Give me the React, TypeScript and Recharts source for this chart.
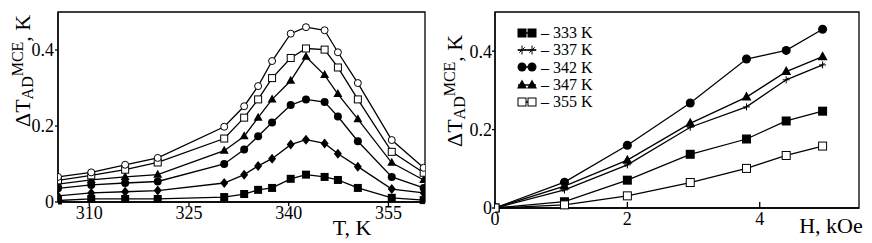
import React from 'react';
import { LineChart, Line, XAxis, YAxis, ReferenceArea, Legend } from 'recharts';

const SERIF = 'Liberation Serif, Times New Roman, serif';

// left panel: temperature dependence for six fields
const temps = [305.3, 310.3, 315.4, 320.3, 330.3, 333.3, 335.4, 337.5, 340.3, 342.6, 345.4, 347.4, 350.4, 355.5, 360.3];
const dT_H1 = [0.004, 0.008, 0.008, 0.008, 0.013, 0.021, 0.032, 0.037, 0.061, 0.072, 0.066, 0.058, 0.037, 0.011, 0.005];
const dT_H2 = [0.016, 0.024, 0.027, 0.03, 0.05, 0.072, 0.095, 0.114, 0.151, 0.164, 0.154, 0.127, 0.093, 0.034, 0.024];
const dT_H3 = [0.036, 0.045, 0.05, 0.054, 0.1, 0.138, 0.173, 0.209, 0.255, 0.27, 0.263, 0.225, 0.16, 0.066, 0.037];
const dT_H4 = [0.047, 0.058, 0.066, 0.072, 0.135, 0.173, 0.222, 0.27, 0.319, 0.382, 0.334, 0.284, 0.218, 0.103, 0.058];
const dT_H5 = [0.057, 0.07, 0.085, 0.104, 0.167, 0.222, 0.27, 0.326, 0.379, 0.404, 0.401, 0.354, 0.27, 0.132, 0.077];
const dT_H6 = [0.066, 0.078, 0.098, 0.116, 0.198, 0.252, 0.305, 0.371, 0.443, 0.46, 0.452, 0.394, 0.313, 0.163, 0.09];
const tTicks = [310, 325, 340, 355];

// right panel: field dependence for five temperatures
const fields = [0, 1.05, 2.0, 2.95, 3.8, 4.4, 4.95];
const dT_333 = [0, 0.016, 0.071, 0.137, 0.176, 0.222, 0.247];
const dT_337 = [0, 0.046, 0.11, 0.206, 0.258, 0.327, 0.365];
const dT_342 = [0, 0.066, 0.16, 0.268, 0.38, 0.402, 0.456];
const dT_347 = [0, 0.056, 0.122, 0.216, 0.283, 0.348, 0.386];
const dT_355 = [0, 0.008, 0.031, 0.065, 0.101, 0.134, 0.158];
const hTicks = [0, 2, 4];
const legendNames = ['333 K', '337 K', '342 K', '347 K', '355 K'];
const legendKinds = ['square', 'star', 'circle', 'triangle', 'osquare'];

const yTicks = [0, 0.2, 0.4];

const leftData = temps.map((T, i) => ({
  T, h1: dT_H1[i], h2: dT_H2[i], h3: dT_H3[i], h4: dT_H4[i], h5: dT_H5[i], h6: dT_H6[i],
}));
const rightData = fields.map((H, i) => ({
  H, k333: dT_333[i], k337: dT_337[i], k342: dT_342[i], k347: dT_347[i], k355: dT_355[i],
}));

function Marker({ cx, cy, kind, s = 4 }: any) {
  if (cx == null || cy == null) return null;
  switch (kind) {
    case 'square':
      return <rect x={cx - s} y={cy - s} width={2 * s} height={2 * s} fill="#000" />;
    case 'osquare':
      return <rect x={cx - s + 0.5} y={cy - s + 0.5} width={2 * s - 1} height={2 * s - 1} fill="#fff" stroke="#000" strokeWidth={1} />;
    case 'circle':
      return <circle cx={cx} cy={cy} r={s} fill="#000" />;
    case 'ocircle':
      return <circle cx={cx} cy={cy} r={s - 0.5} fill="#fff" stroke="#000" strokeWidth={1} />;
    case 'diamond':
      return <polygon points={`${cx},${cy - s - 1} ${cx + s},${cy} ${cx},${cy + s + 1} ${cx - s},${cy}`} fill="#000" />;
    case 'triangle':
      return <polygon points={`${cx},${cy - s - 1} ${cx + s + 0.5},${cy + s - 1} ${cx - s - 0.5},${cy + s - 1}`} fill="#000" />;
    case 'star':
      return (
        <g stroke="#000" strokeWidth={1}>
          <line x1={cx - s} y1={cy} x2={cx + s} y2={cy} />
          <line x1={cx} y1={cy - s} x2={cx} y2={cy + s} />
          <line x1={cx - s * 0.6} y1={cy + s * 0.6} x2={cx + s * 0.6} y2={cy - s * 0.6} />
        </g>
      );
    default:
      return null;
  }
}

const dotOf = (kind: string, s = 4) => (p: any) => <Marker key={p.index} cx={p.cx} cy={p.cy} kind={kind} s={s} />;

const mceLabel = (x: number, y: number) => () => (
  <text transform={`translate(${x},${y}) rotate(-90)`} style={{ fontFamily: SERIF }} fontSize={22} fill="#000">
    ΔT<tspan fontSize={16} dy={3}>AD</tspan>
    <tspan fontSize={16} dy={-10}>MCE</tspan>
    <tspan fontSize={22} dy={7}>, K</tspan>
  </text>
);

const axisTitle = (x: number, y: number, txt: string) => () => (
  <text x={x} y={y} textAnchor="middle" style={{ fontFamily: SERIF }} fontSize={22} fill="#000">{txt}</text>
);

const tickStyle = { fontSize: 18, fill: '#000', style: { fontFamily: SERIF } };

const renderLegend = () => (
  <div style={{ fontFamily: SERIF, fontSize: 16, color: '#000' }}>
    {legendNames.map((n, i) => (
      <div key={n} style={{ display: 'flex', alignItems: 'center', height: 17.3, lineHeight: '17px' }}>
        <svg width={22} height={12} style={{ marginRight: 3 }}>
          <line x1={2} y1={6} x2={20} y2={6} stroke="#000" strokeWidth={1.5} />
          <Marker cx={6} cy={6} kind={legendKinds[i]} s={4.5} />
          <Marker cx={16} cy={6} kind={legendKinds[i]} s={4.5} />
        </svg>
        <span style={{ whiteSpace: 'pre' }}>{'– ' + n}</span>
      </div>
    ))}
  </div>
);

export default function App() {
  return (
    <div style={{ position: 'absolute', left: 0, top: 0, width: 872, height: 243, background: '#fff', fontFamily: SERIF }}>
      <div style={{ position: 'absolute', left: 0, top: 0 }}>
        <LineChart width={440} height={243} data={leftData} margin={{ top: 12, right: 15, bottom: 11, left: 0 }}>
          <XAxis
            type="number"
            dataKey="T"
            domain={[305.3, 360.5]}
            ticks={tTicks}
            allowDataOverflow
            height={30}
            tick={tickStyle}
            tickSize={4}
            tickMargin={0}
            stroke="#000"
            strokeWidth={1.3}
            label={{ content: axisTitle(352, 235, 'T, K') }}
          />
          <YAxis
            type="number"
            domain={[0, 0.5]}
            ticks={yTicks}
            width={58}
            tick={tickStyle}
            tickSize={3}
            tickMargin={1}
            stroke="#000"
            strokeWidth={1.3}
            label={{ content: mceLabel(30, 127) }}
          />
          <ReferenceArea x1={305.3} x2={360.5} y1={0} y2={0.5} fill="none" stroke="#000" strokeWidth={1.3} />
          <Line dataKey="h1" stroke="#000" strokeWidth={1.3} dot={dotOf('square')} isAnimationActive={false} />
          <Line dataKey="h2" stroke="#000" strokeWidth={1.3} dot={dotOf('diamond')} isAnimationActive={false} />
          <Line dataKey="h3" stroke="#000" strokeWidth={1.3} dot={dotOf('circle')} isAnimationActive={false} />
          <Line dataKey="h4" stroke="#000" strokeWidth={1.3} dot={dotOf('triangle')} isAnimationActive={false} />
          <Line dataKey="h5" stroke="#000" strokeWidth={1.3} dot={dotOf('osquare')} isAnimationActive={false} />
          <Line dataKey="h6" stroke="#000" strokeWidth={1.3} dot={dotOf('ocircle')} isAnimationActive={false} />
        </LineChart>
      </div>
      <div style={{ position: 'absolute', left: 440, top: 0 }}>
        <LineChart width={432} height={243} data={rightData} margin={{ top: 12, right: 13, bottom: 5, left: 0 }}>
          <XAxis
            type="number"
            dataKey="H"
            domain={[0, 5.5]}
            ticks={hTicks}
            allowDataOverflow
            height={30}
            tick={tickStyle}
            tickSize={-6}
            tickMargin={10}
            stroke="#000"
            strokeWidth={1.3}
            label={{ content: axisTitle(391, 233, 'H, kOe') }}
          />
          <YAxis
            type="number"
            domain={[0, 0.5]}
            ticks={yTicks}
            width={55}
            tick={tickStyle}
            tickSize={3}
            tickMargin={0}
            stroke="#000"
            strokeWidth={1.3}
            label={{ content: mceLabel(22, 147) }}
          />
          <ReferenceArea x1={0} x2={5.5} y1={0} y2={0.5} fill="none" stroke="#000" strokeWidth={1.3} />
          <Legend
            layout="vertical"
            align="center"
            verticalAlign="middle"
            content={renderLegend}
            wrapperStyle={{ position: 'absolute', left: 76, top: 24, width: 'auto' }}
          />
          <Line name="333 K" dataKey="k333" stroke="#000" strokeWidth={1.3} dot={dotOf('square', 4.5)} isAnimationActive={false} />
          <Line name="337 K" dataKey="k337" stroke="#000" strokeWidth={1.3} dot={dotOf('star', 3.5)} isAnimationActive={false} />
          <Line name="342 K" dataKey="k342" stroke="#000" strokeWidth={1.3} dot={dotOf('circle', 4.5)} isAnimationActive={false} />
          <Line name="347 K" dataKey="k347" stroke="#000" strokeWidth={1.3} dot={dotOf('triangle', 4.5)} isAnimationActive={false} />
          <Line name="355 K" dataKey="k355" stroke="#000" strokeWidth={1.3} dot={dotOf('osquare', 4.5)} isAnimationActive={false} />
        </LineChart>
      </div>
    </div>
  );
}
